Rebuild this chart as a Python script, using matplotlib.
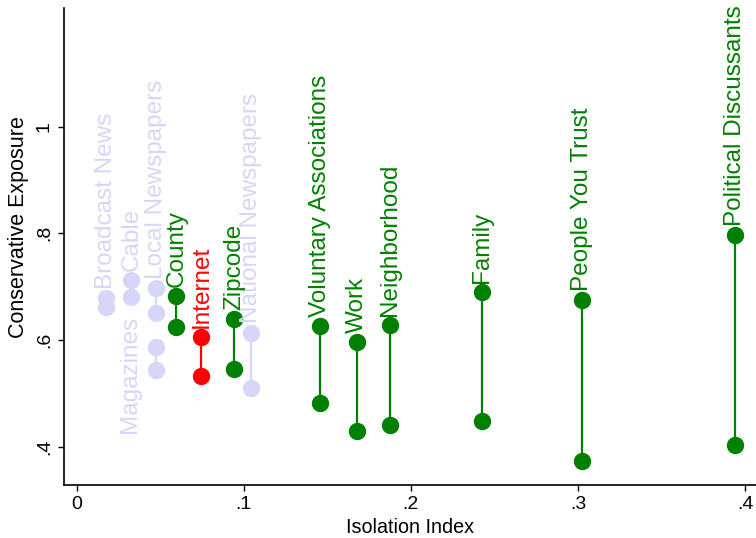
import matplotlib.pyplot as plt

plt.rcParams['font.family'] = ['Liberation Sans', 'DejaVu Sans']

# values
names = ['Broadcast News', 'Cable', 'Magazines', 'Local Newspapers',
         'National Newspapers', 'County', 'Internet', 'Zipcode',
         'Voluntary Associations', 'Work', 'Neighborhood', 'Family',
         'People You Trust', 'Political Discussants']
isolation = [0.0178, 0.0328, 0.0476, 0.0476,
             0.1046, 0.0597, 0.0747, 0.0942,
             0.1455, 0.1679, 0.1874, 0.2426,
             0.3025, 0.3942]
exposure_high = [0.679, 0.713, 0.587, 0.698,
                 0.614, 0.683, 0.606, 0.639,
                 0.626, 0.597, 0.628, 0.690,
                 0.675, 0.797]
exposure_low = [0.662, 0.681, 0.544, 0.651,
                0.509, 0.624, 0.533, 0.545,
                0.482, 0.430, 0.440, 0.448,
                0.373, 0.403]
kind = ['media', 'media', 'media', 'media',
        'media', 'social', 'internet', 'social',
        'social', 'social', 'social', 'social',
        'social', 'social']

colors = {'media': '#d6d6f9', 'social': '#008000', 'internet': '#ff0000'}

x_ticks = [0, 0.1, 0.2, 0.3, 0.4]
x_tick_labels = ['0', '.1', '.2', '.3', '.4']
y_ticks = [0.4, 0.6, 0.8, 1.0]
y_tick_labels = ['.4', '.6', '.8', '1']

fig = plt.figure(figsize=(7.56, 5.38), dpi=100)
ax = fig.add_axes([64 / 756, 53 / 538, 692 / 756, 477 / 538])

# media first so the green/red labels sit on top
order = [i for i in range(len(names)) if kind[i] == 'media'] + \
        [i for i in range(len(names)) if kind[i] != 'media']

for i in order:
    c = colors[kind[i]]
    ax.plot([isolation[i], isolation[i]], [exposure_low[i], exposure_high[i]],
            color=c, lw=1.6, marker='o', ms=11.5, mfc=c, mec=c, zorder=2)
    if names[i] == 'Magazines':
        ax.annotate(names[i], (isolation[i], exposure_high[i]),
                    xytext=(-19, 22), textcoords='offset points',
                    rotation=90, ha='center', va='top', color=c, fontsize=17.5)
    else:
        ax.annotate(names[i], (isolation[i], exposure_high[i]),
                    xytext=(0, 6.5), textcoords='offset points',
                    rotation=90, ha='center', va='bottom', color=c, fontsize=17.5)

ax.set_xlim(-0.0076, 0.4066)
ax.set_ylim(0.328, 1.2226)

ax.set_xticks(x_ticks)
ax.set_xticklabels(x_tick_labels, fontsize=14)
ax.set_yticks(y_ticks)
ax.set_yticklabels(y_tick_labels, fontsize=14, rotation=90, va='center')
ax.tick_params(axis='both', direction='out', length=4.5, width=1, pad=3.5)

ax.spines['top'].set_visible(False)
ax.spines['right'].set_visible(False)
ax.spines['left'].set_linewidth(1.2)
ax.spines['bottom'].set_linewidth(1.2)

ax.set_xlabel('Isolation Index', fontsize=14.2)
ax.set_ylabel('Conservative Exposure', fontsize=15.5)
ax.yaxis.set_label_coords(-0.05, 0.54)
ax.xaxis.set_label_coords(0.5, -0.07)

fig.savefig('out.png', dpi=100)
